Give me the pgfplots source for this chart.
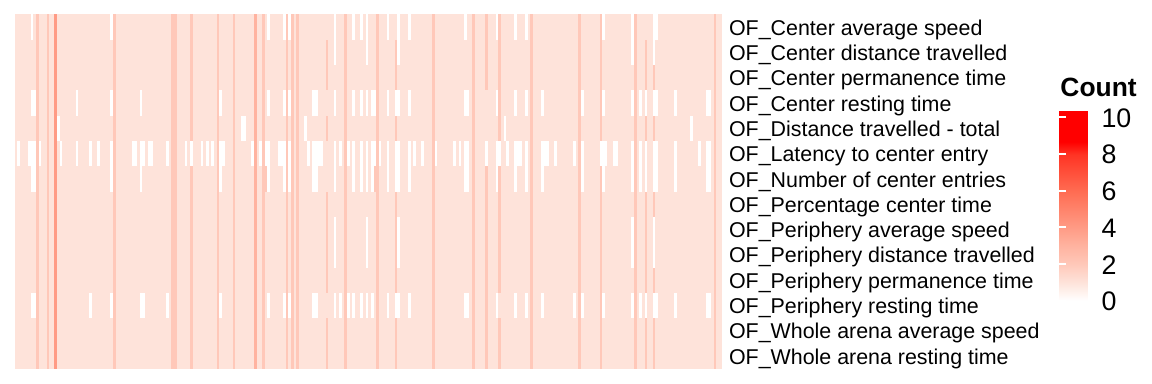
\documentclass[border=0pt]{standalone}
\usepackage{pgfplots}
\usepackage{pgfplotstable}
\usepackage{fontspec}
\setmainfont{Liberation Sans}
\pgfplotsset{compat=1.18}
\definecolor{cBase}{RGB}{254,227,218}
\definecolor{cTwo}{RGB}{255,200,185}
\definecolor{cThree}{RGB}{255,179,160}
\definecolor{cFour}{RGB}{255,155,133}
\pgfplotsset{
  hmstripe/.style={draw=none, mark=none, forget plot,
    /pgfplots/error bars/y dir=both, /pgfplots/error bars/y explicit, /pgfplots/error bars/error mark=none,
    /pgfplots/error bars/error bar style={draw=#1, line width=1.33pt, solid}},
  hmwhite/.style={draw=none, mark=none, forget plot,
    /pgfplots/error bars/y dir=both, /pgfplots/error bars/y fixed=0.5, /pgfplots/error bars/error mark=none,
    /pgfplots/error bars/error bar style={draw=white, line width=1.33pt, solid}}
}
% column, row centre, half height
\pgfplotstableread{
k r e
8 7.5 7
12 7.5 7
37 7.5 7
59 7.5 7
60 7.5 7
66 7.5 7
76 7.5 7
82 7.5 7
93 7.5 7
102 7.5 7
104 7.5 7
106 7.5 7
124 7.5 7
136 7.5 7
157 7.5 7
172 7.5 7
194 7.5 7
212 7.5 7
220 7.5 7
233 7.5 7
263 7.5 7
177 2 1.5
177 10 4.5
182 6 5.5
182 13.5 1
94 7 0.5
135 7 0.5
117 2.5 1
117 5 0.5
117 9.5 2
117 13.5 1
143 2.5 1
143 5 0.5
143 9.5 2
143 13.5 1
237 2.5 1
237 5 0.5
237 9.5 2
237 13.5 1
240 3 0.5
240 5 0.5
240 8 0.5
240 11 0.5
240 13.5 1
}\stripesTwo
\pgfplotstableread{
k r e
90 7.5 7
}\stripesThree
\pgfplotstableread{
k r e
15 7.5 7
}\stripesFour
\begin{document}
\begin{tikzpicture}[x=1pt,y=1pt]
\useasboundingbox (0,0) rectangle (576,192);
\begin{axis}[
  at={(7.3pt,7.5pt)}, anchor=south west,
  scale only axis, width=353.6pt, height=177.25pt,
  xmin=-0.5, xmax=265.5, ymin=0.5, ymax=14.5, y dir=reverse,
  xtick=\empty,
  ytick={1,...,14},
  yticklabels={OF\_Center average speed,OF\_Center distance travelled,OF\_Center permanence time,OF\_Center resting time,OF\_Distance travelled - total,OF\_Latency to center entry,OF\_Number of center entries,OF\_Percentage center time,OF\_Periphery average speed,OF\_Periphery distance travelled,OF\_Periphery permanence time,OF\_Periphery resting time,OF\_Whole arena average speed,OF\_Whole arena resting time},
  ticklabel pos=right,
  ytick style={draw=none},
  major tick length=0pt,
  yticklabel style={font=\fontsize{10.7pt}{12pt}\selectfont, anchor=west, xshift=0.1pt, yshift=-1.2pt},
  axis line style={draw=none},
  colormap={hm}{rgb255(0pt)=(255,255,255) rgb255(10pt)=(254,227,218) rgb255(20pt)=(255,200,185) rgb255(30pt)=(255,179,160) rgb255(40pt)=(255,155,133) rgb255(60pt)=(255,108,82) rgb255(80pt)=(255,52,36) rgb255(87pt)=(255,0,0) rgb255(104pt)=(255,0,0)},
  point meta min=0, point meta max=10.36,
  colorbar,
  colorbar style={
    at={(parent axis.south east)}, anchor=south west,
    xshift=160.3pt, yshift=34.15pt,
    width=17.6pt, height=95pt,
    ytick={0,2,4,6,8,10},
    tick align=inside,
    major tick length=3.25pt,
    ytick style={draw=white, line width=0.9pt},
    xtick style={draw=none},
    axis line style={draw=none},
    yticklabel pos=right,
    ytick pos=both,
    /pgf/number format/assume math mode=true,
    yticklabel style={font=\fontsize{13.4pt}{15pt}\selectfont, anchor=west, xshift=-0.1pt, yshift=-0.4pt},
    title={\fontsize{13.2pt}{15pt}\selectfont\bfseries Count},
    title style={at={(0,1)}, anchor=south west, xshift=0.3pt, yshift=1pt, inner sep=0pt},
  },
]
\addplot[fill=cBase, draw=none, forget plot] coordinates {(-0.5,0.5)(265.5,0.5)(265.5,14.5)(-0.5,14.5)} -- cycle;
\addplot[hmstripe=cTwo] table[x=k,y=r,y error=e] {\stripesTwo};
\addplot[hmstripe=cThree] table[x=k,y=r,y error=e] {\stripesThree};
\addplot[hmstripe=cFour] table[x=k,y=r,y error=e] {\stripesFour};
% empty (white) cells, row by row
\addplot[hmwhite] coordinates {(6,1)(36,1)(95,1)(101,1)(103,1)(120,1)(127,1)(130,1)(132,1)(140,1)(144,1)(148,1)(169,1)(181,1)(188,1)(192,1)(221,1)(232,1)(240,1)(241,1)};
\addplot[hmwhite] coordinates {(120,2)(132,2)(144,2)(232,2)(240,2)};
\addplot[hmwhite] coordinates {(6,4)(7,4)(23,4)(36,4)(47,4)(77,4)(95,4)(101,4)(103,4)(112,4)(113,4)(120,4)(127,4)(130,4)(132,4)(134,4)(135,4)(140,4)(143,4)(144,4)(148,4)(169,4)(170,4)(181,4)(188,4)(192,4)(198,4)(213,4)(221,4)(232,4)(235,4)(237,4)(240,4)(241,4)(248,4)(260,4)(261,4)};
\addplot[hmwhite] coordinates {(16,5)(85,5)(86,5)(109,5)(184,5)(254,5)};
\addplot[hmwhite] coordinates {(1,6)(5,6)(6,6)(7,6)(9,6)(17,6)(23,6)(28,6)(31,6)(36,6)(44,6)(45,6)(47,6)(48,6)(50,6)(51,6)(57,6)(64,6)(66,6)(70,6)(72,6)(74,6)(77,6)(78,6)(89,6)(92,6)(94,6)(95,6)(99,6)(100,6)(101,6)(103,6)(110,6)(112,6)(113,6)(114,6)(115,6)(120,6)(122,6)(125,6)(127,6)(130,6)(132,6)(134,6)(135,6)(137,6)(140,6)(143,6)(144,6)(148,6)(150,6)(153,6)(158,6)(165,6)(167,6)(169,6)(170,6)(177,6)(181,6)(182,6)(185,6)(188,6)(189,6)(190,6)(192,6)(198,6)(199,6)(200,6)(203,6)(210,6)(213,6)(220,6)(221,6)(222,6)(225,6)(226,6)(232,6)(235,6)(237,6)(240,6)(241,6)(248,6)(257,6)(260,6)(261,6)};
\addplot[hmwhite] coordinates {(6,7)(7,7)(36,7)(47,7)(77,7)(95,7)(101,7)(103,7)(112,7)(113,7)(120,7)(127,7)(130,7)(132,7)(134,7)(140,7)(143,7)(144,7)(148,7)(169,7)(170,7)(181,7)(188,7)(192,7)(198,7)(213,7)(221,7)(232,7)(235,7)(237,7)(240,7)(241,7)(248,7)(260,7)(261,7)};
\addplot[hmwhite] coordinates {(120,9)(132,9)(144,9)(232,9)(240,9)};
\addplot[hmwhite] coordinates {(120,10)(132,10)(144,10)(232,10)(240,10)};
\addplot[hmwhite] coordinates {(6,12)(7,12)(28,12)(36,12)(47,12)(48,12)(57,12)(77,12)(95,12)(101,12)(103,12)(112,12)(113,12)(120,12)(122,12)(125,12)(127,12)(130,12)(132,12)(134,12)(140,12)(143,12)(144,12)(148,12)(169,12)(170,12)(181,12)(188,12)(192,12)(198,12)(210,12)(213,12)(221,12)(232,12)(235,12)(237,12)(240,12)(241,12)(248,12)(260,12)(261,12)};
\end{axis}
\end{tikzpicture}
\end{document}
